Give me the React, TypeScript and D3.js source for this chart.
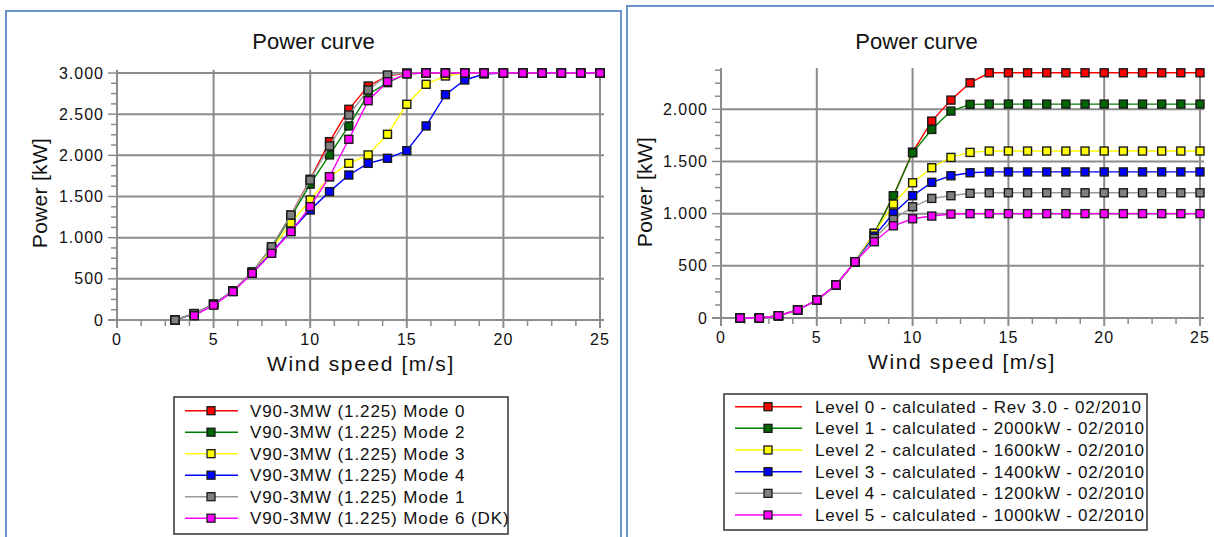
import React from "react";
import * as d3 from "d3";

// ---------- DATA ----------
const leftSpeeds = [3, 4, 5, 6, 7, 8, 9, 10, 11, 12, 13, 14, 15, 16, 17, 18, 19, 20, 21, 22, 23, 24, 25];
const mode0 = [0, 77, 190, 353, 581, 886, 1273, 1710, 2166, 2559, 2842, 2965, 2996, 3000, 3000, 3000, 3000, 3000, 3000, 3000, 3000, 3000, 3000];
const mode2 = [0, 77, 190, 353, 581, 880, 1250, 1650, 2005, 2357, 2740, 2883, 2990, 3000, 3000, 3000, 3000, 3000, 3000, 3000, 3000, 3000, 3000];
const mode3 = [0, 77, 190, 353, 575, 860, 1175, 1458, 1740, 1903, 2005, 2255, 2620, 2863, 2964, 3000, 3000, 3000, 3000, 3000, 3000, 3000, 3000];
const mode4 = [0, 77, 190, 353, 570, 820, 1080, 1336, 1559, 1761, 1903, 1964, 2057, 2357, 2737, 2915, 2988, 3000, 3000, 3000, 3000, 3000, 3000];
const mode1 = [0, 77, 190, 353, 581, 890, 1275, 1700, 2114, 2490, 2794, 2976, 3000, 3000, 3000, 3000, 3000, 3000, 3000, 3000, 3000, 3000, 3000];
const mode6 = [null, 52, 180, 344, 567, 810, 1073, 1377, 1741, 2195, 2664, 2895, 2990, 3000, 3000, 3000, 3000, 3000, 3000, 3000, 3000, 3000, 3000];
const leftNames = [
  "V90-3MW (1.225) Mode 0",
  "V90-3MW (1.225) Mode 2",
  "V90-3MW (1.225) Mode 3",
  "V90-3MW (1.225) Mode 4",
  "V90-3MW (1.225) Mode 1",
  "V90-3MW (1.225) Mode 6 (DK)",
];

const rightSpeeds = [1, 2, 3, 4, 5, 6, 7, 8, 9, 10, 11, 12, 13, 14, 15, 16, 17, 18, 19, 20, 21, 22, 23, 24, 25];
const level0 = [0, 0, 22, 77, 172, 316, 539, 811, 1172, 1590, 1887, 2088, 2254, 2350, 2350, 2350, 2350, 2350, 2350, 2350, 2350, 2350, 2350, 2350, 2350];
const level1 = [0, 0, 22, 77, 172, 316, 539, 811, 1172, 1583, 1807, 1983, 2047, 2050, 2050, 2050, 2050, 2050, 2050, 2050, 2050, 2050, 2050, 2050, 2050];
const level2 = [0, 0, 22, 77, 172, 316, 539, 811, 1092, 1296, 1440, 1539, 1587, 1600, 1600, 1600, 1600, 1600, 1600, 1600, 1600, 1600, 1600, 1600, 1600];
const level3 = [0, 0, 22, 77, 172, 316, 539, 785, 1003, 1172, 1300, 1363, 1392, 1400, 1400, 1400, 1400, 1400, 1400, 1400, 1400, 1400, 1400, 1400, 1400];
const level4 = [0, 0, 22, 77, 172, 316, 539, 763, 945, 1066, 1146, 1172, 1195, 1200, 1200, 1200, 1200, 1200, 1200, 1200, 1200, 1200, 1200, 1200, 1200];
const level5 = [0, 0, 22, 77, 172, 316, 539, 731, 884, 951, 977, 996, 1000, 1000, 1000, 1000, 1000, 1000, 1000, 1000, 1000, 1000, 1000, 1000, 1000];
const rightNames = [
  "Level 0 - calculated - Rev 3.0 - 02/2010",
  "Level 1 - calculated - 2000kW - 02/2010",
  "Level 2 - calculated - 1600kW - 02/2010",
  "Level 3 - calculated - 1400kW - 02/2010",
  "Level 4 - calculated - 1200kW - 02/2010",
  "Level 5 - calculated - 1000kW - 02/2010",
];

const xTicks = [0, 5, 10, 15, 20, 25];
const leftYTicks = [0, 500, 1000, 1500, 2000, 2500, 3000];
const rightYTicks = [0, 500, 1000, 1500, 2000];

const lineColors = ["#ff0000", "#008000", "#ffff00", "#0000ff", "#999999", "#ff00ff"];
const markerColors = ["#ff0000", "#006400", "#ffff00", "#0000ff", "#808080", "#ff00ff"];

// ---------- STYLE ----------
const FONT = "'Liberation Sans', Arial, sans-serif";
const GRID = "#8c8c8c";
const BORDER = "#6a93cf";

type Cfg = {
  speeds: number[];
  series: (number | null)[][];
  names: string[];
  yTicks: number[];
  xRange: [number, number];
  yDomainMax: number;
  yRange: [number, number];
  axisTopValue: number;
  minorMax: number;
  titleX: number;
  xTitleX: number;
  xTitleY: number;
  xTitleLS: number;
  yTitleX: number;
  yTitleY: number;
  legend: { x: number; y: number; w: number; h: number; row0: number; dy: number; l0: number; l1: number; mx: number; tx: number; ls: number };
};

function Chart({ c }: { c: Cfg }) {
  const x = d3.scaleLinear().domain([0, 25]).range(c.xRange);
  const y = d3.scaleLinear().domain([0, c.yDomainMax]).range(c.yRange);
  const x0 = x(0);
  const y0 = y(0);
  const yTop = y(c.axisTopValue);
  const xMinor = d3.range(0, 25.01, 1.25).filter((v) => Math.abs(v % 5) > 0.01);
  const yMinor = d3.range(0, c.minorMax + 1, 125).filter((v) => v % 500 !== 0);
  const fmt = (v: number) => d3.format(",")(v).replace(/,/g, ".");
  const line = d3
    .line<[number, number | null]>()
    .defined((d) => d[1] !== null)
    .x((d) => x(d[0]))
    .y((d) => y(d[1] as number));
  const ms = 8;
  return (
    <g>
      {/* grid */}
      {c.yTicks.filter((v) => v > 0).map((v) => (
        <line key={"hg" + v} x1={x0} x2={x(25) + 4} y1={y(v)} y2={y(v)} stroke={GRID} strokeWidth={2} />
      ))}
      {xTicks.filter((v) => v > 0).map((v) => (
        <line key={"vg" + v} x1={x(v)} x2={x(v)} y1={yTop} y2={y0 + 8} stroke={GRID} strokeWidth={2} />
      ))}
      {/* axes */}
      <line x1={x0} x2={x0} y1={yTop} y2={y0 + 8} stroke={GRID} strokeWidth={2} />
      <line x1={x0 - 9} x2={x(25) + 4} y1={y0} y2={y0} stroke={GRID} strokeWidth={2} />
      {c.yTicks.map((v) => (
        <line key={"yt" + v} x1={x0 - 9} x2={x0} y1={y(v)} y2={y(v)} stroke={GRID} strokeWidth={1.5} />
      ))}
      {yMinor.map((v) => (
        <line key={"ym" + v} x1={x0 - 6} x2={x0} y1={y(v)} y2={y(v)} stroke={GRID} strokeWidth={1.5} />
      ))}
      {xMinor.map((v) => (
        <line key={"xm" + v} x1={x(v)} x2={x(v)} y1={y0} y2={y0 + 6} stroke={GRID} strokeWidth={1.5} />
      ))}
      {/* tick labels */}
      {c.yTicks.map((v) => (
        <text key={"yl" + v} x={x0 - 13} y={y(v) + 5.5} textAnchor="end" fontSize={16} letterSpacing={1} fontFamily={FONT} fill="#111">
          {fmt(v)}
        </text>
      ))}
      {xTicks.map((v) => (
        <text key={"xl" + v} x={x(v)} y={y0 + 25} textAnchor="middle" fontSize={16} letterSpacing={1} fontFamily={FONT} fill="#111">
          {v}
        </text>
      ))}
      {/* titles */}
      <text x={c.titleX} y={49} textAnchor="middle" fontSize={22} fontFamily={FONT} fill="#111">
        Power curve
      </text>
      <text x={c.xTitleX} y={c.xTitleY} textAnchor="middle" fontSize={21} letterSpacing={c.xTitleLS} fontFamily={FONT} fill="#111">
        Wind speed [m/s]
      </text>
      <text
        transform={`translate(${c.yTitleX},${c.yTitleY}) rotate(-90)`}
        textAnchor="middle"
        fontSize={21}
        letterSpacing={0.3}
        fontFamily={FONT}
        fill="#111"
      >
        Power [kW]
      </text>
      {/* series */}
      {c.series.map((s, i) => {
        const pts: [number, number | null][] = c.speeds.map((sp, j) => [sp, s[j]]);
        return (
          <g key={"s" + i}>
            <path d={line(pts) || ""} fill="none" stroke={lineColors[i]} strokeWidth={1.4} />
            {pts
              .filter((p) => p[1] !== null)
              .map((p) => (
                <rect
                  key={p[0]}
                  x={x(p[0]) - ms / 2}
                  y={y(p[1] as number) - ms / 2}
                  width={ms}
                  height={ms}
                  fill={markerColors[i]}
                  stroke="#1a1a1a"
                  strokeWidth={1.4}
                />
              ))}
          </g>
        );
      })}
      {/* legend */}
      <rect x={c.legend.x} y={c.legend.y} width={c.legend.w} height={c.legend.h} fill="#fff" stroke="#333" strokeWidth={1.5} />
      {c.names.map((n, i) => {
        const cy = c.legend.row0 + i * c.legend.dy;
        return (
          <g key={"lg" + i}>
            <line x1={c.legend.l0} x2={c.legend.l1} y1={cy} y2={cy} stroke={lineColors[i]} strokeWidth={1.5} />
            <rect x={c.legend.mx - 4} y={cy - 4} width={8} height={8} fill={markerColors[i]} stroke="#1a1a1a" strokeWidth={1.3} />
            <text x={c.legend.tx} y={cy + 6} fontSize={17} letterSpacing={c.legend.ls} fontFamily={FONT} fill="#111">
              {n}
            </text>
          </g>
        );
      })}
    </g>
  );
}

const leftCfg: Cfg = {
  speeds: leftSpeeds,
  series: [mode0, mode2, mode3, mode4, mode1, mode6],
  names: leftNames,
  yTicks: leftYTicks,
  xRange: [117, 600],
  yDomainMax: 3000,
  yRange: [320, 73],
  axisTopValue: 3040,
  minorMax: 3000,
  titleX: 313.5,
  xTitleX: 361,
  xTitleY: 371,
  xTitleLS: 1.6,
  yTitleX: 46.5,
  yTitleY: 193,
  legend: { x: 174, y: 397, w: 334, h: 137, row0: 410.7, dy: 21.5, l0: 185, l1: 238, mx: 211, tx: 250, ls: 0.9 },
};

const rightCfg: Cfg = {
  speeds: rightSpeeds,
  series: [level0, level1, level2, level3, level4, level5],
  names: rightNames,
  yTicks: rightYTicks,
  xRange: [721, 1200],
  yDomainMax: 2000,
  yRange: [318, 109.3],
  axisTopValue: 2395,
  minorMax: 2375,
  titleX: 916.5,
  xTitleX: 962,
  xTitleY: 369,
  xTitleLS: 1.6,
  yTitleX: 651.5,
  yTitleY: 192,
  legend: { x: 724, y: 394, w: 423, h: 136, row0: 406.7, dy: 21.66, l0: 735, l1: 802, mx: 768, tx: 815, ls: 0.75 },
};

export default function App() {
  return (
    <div style={{ position: "fixed", left: 0, top: 0 }}>
      <svg width={1214} height={537} style={{ display: "block", background: "#fff" }}>
        <rect x={0} y={0} width={1214} height={537} fill="#fff" />
        <rect x={6} y={11} width={615} height={600} fill="#fff" stroke={BORDER} strokeWidth={2} />
        <rect x={627} y={6} width={700} height={600} fill="#fff" stroke={BORDER} strokeWidth={2} />
        <Chart c={leftCfg} />
        <Chart c={rightCfg} />
      </svg>
    </div>
  );
}
